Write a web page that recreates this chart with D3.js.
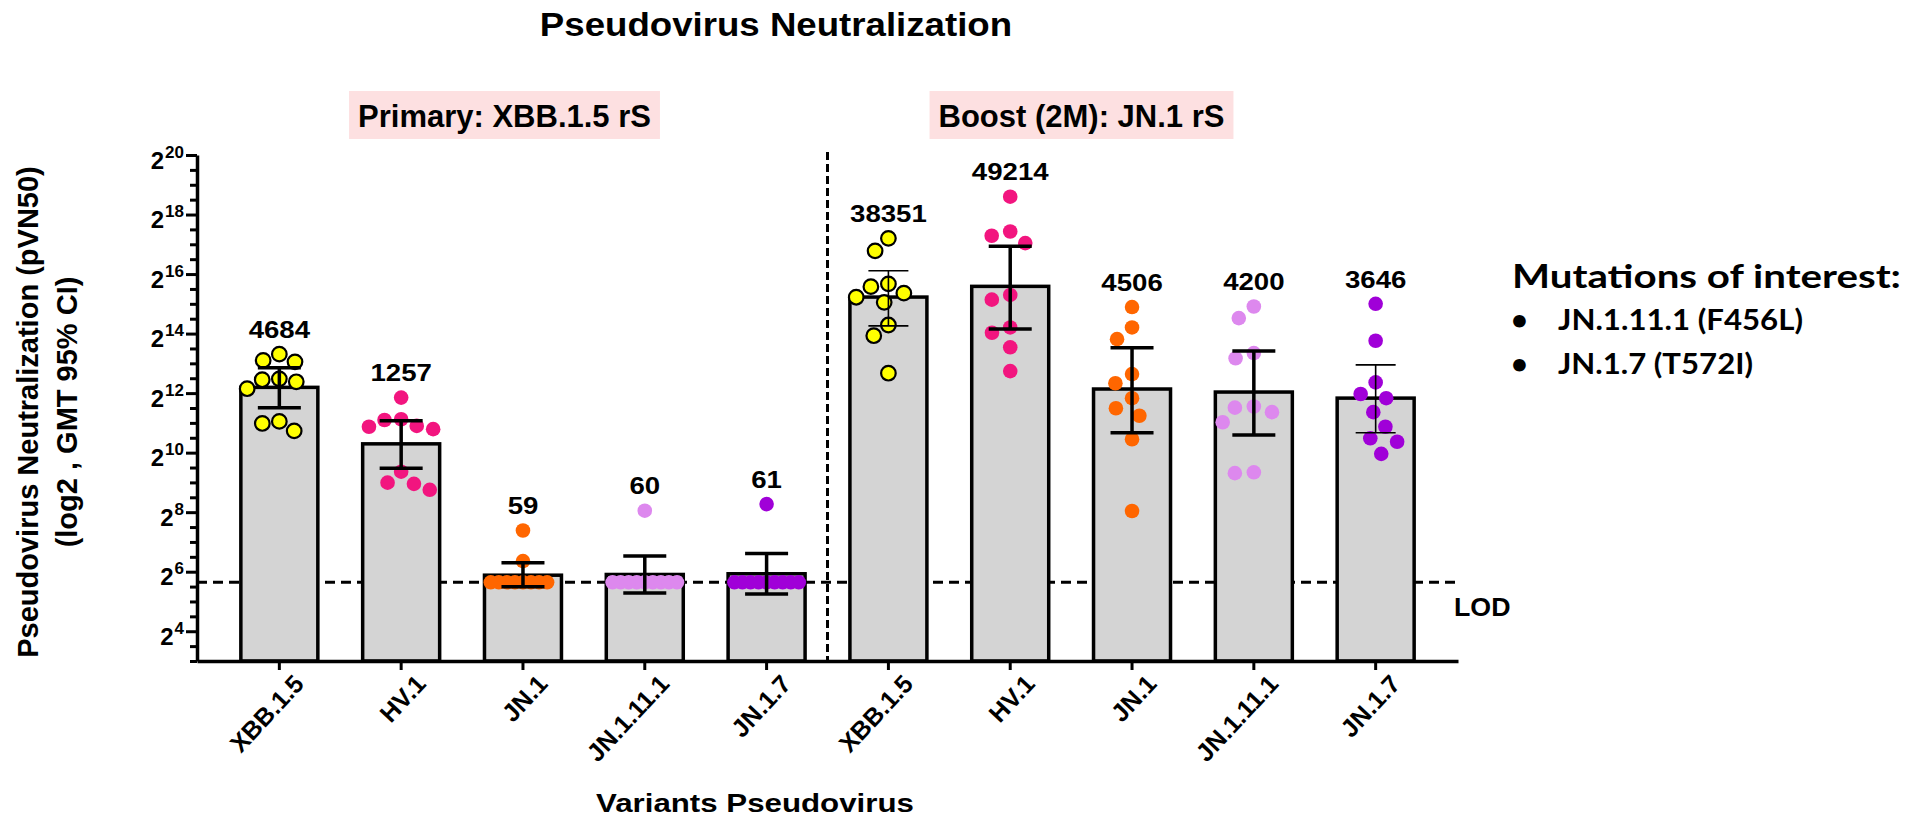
<!DOCTYPE html>
<html>
<head>
<meta charset="utf-8">
<script src="https://cdn.jsdelivr.net/npm/d3@7"></script>
<style>
  body { margin: 0; background: #fff; }
  svg text { font-family: "Liberation Sans", Arial, sans-serif; font-weight: bold; fill: #000; }
</style>
</head>
<body>
<script>
// ---- data ----
const groups = ['Primary: XBB.1.5 rS', 'Boost (2M): JN.1 rS'];
const variants = ['XBB.1.5', 'HV.1', 'JN.1', 'JN.1.11.1', 'JN.1.7'];
// geometric mean titers (labels), primary group then boost group
const gmt = [4684, 1257, 59, 60, 61, 38351, 49214, 4506, 4200, 3646];
const ciLow = [2920, 710, 45, 39, 38, 19600, 18200, 1630, 1540, 1630];
const ciHigh = [7380, 2150, 79, 92, 98, 70700, 125600, 11800, 10950, 7900];
// individual animals, pVN50
const primaryTiters = [
	[10150, 8780, 8480, 5710, 5600, 5330, 4540, 2120, 2020, 1700],
	[3690, 2230, 2190, 1910, 1870, 1770, 657, 509, 495, 431],
	[167, 82, 50, 50, 50, 50, 50, 50, 50, 50],
	[265, 50, 50, 50, 50, 50, 50, 50, 50, 50],
	[309, 50, 50, 50, 50, 50, 50, 50, 50, 50]
];
const boostTiters = [
	[150600, 112500, 52100, 48900, 42000, 38200, 33900, 20000, 15600, 6510],
	[397000, 176500, 160000, 134700, 40300, 36100, 18900, 16700, 11900, 6840],
	[30400, 18900, 14400, 6380, 5150, 3640, 2880, 2420, 1400, 263],
	[30800, 23500, 10400, 9210, 3000, 2920, 2630, 2080, 648, 635],
	[32770, 13870, 5260, 4010, 3640, 2630, 1870, 1430, 1320, 996]
];
const lod = 50;
const yExponents = [4, 6, 8, 10, 12, 14, 16, 18, 20];
const mutations = ['JN.1.11.1 (F456L)', 'JN.1.7 (T572I)'];

// ---- style ----
const colors = ['#ffff00', '#f2157f', '#ff6600', '#dd88ee', '#a000d8'];
const thinCI = new Set([5, 9]);
const r = 7.3;

//helper: stretch text horizontally by k
const stretch = (sel, k) => sel.each(function () {
	const w = this.getComputedTextLength();
	d3.select(this).attr('textLength', w * k).attr('lengthAdjust', 'spacingAndGlyphs');
});

const rows = groups.flatMap((g, gi) => variants.map((v, vi) => {
	const i = gi * variants.length + vi;
	return {
		key: i, variant: v, vi, gmt: gmt[i], lo: ciLow[i], hi: ciHigh[i],
		titers: (gi === 0 ? primaryTiters : boostTiters)[vi]
	};
}));

const svg = d3.select('body').append('svg')
	.attr('width', 1920)
	.attr('height', 817);

const x = d3.scaleBand()
	.domain(rows.map((d) => d.key))
	.range([197, 1458])
	.paddingInner(0.368)
	.paddingOuter(0.36);
const y = d3.scaleLog().base(2)
	.domain([2 ** 3, 2 ** 20])
	.range([661, 155]);
const bw = x.bandwidth();

//simple greedy beeswarm, returns x offsets
function swarm(vals, maxHalf) {
	const D = 19;
	const pts = vals.map((v) => ({ py: y(v), dx: 0 }));
	const placed = [];
	pts.slice().sort((a, b) => a.py - b.py).forEach((p) => {
		const cands = [0];
		placed.forEach((q) => {
			const dy = Math.abs(q.py - p.py);
			if (dy < D) {
				const off = Math.sqrt(D * D - dy * dy);
				cands.push(q.dx + off, q.dx - off);
			}
		});
		cands.sort((a, b) => Math.abs(a) - Math.abs(b) || a - b);
		for (const c of cands) {
			if (placed.every((q) => (q.dx - c) ** 2 + (q.py - p.py) ** 2 >= D * D - 0.01)) { p.dx = c; break; }
		}
		placed.push(p);
	});
	const m = d3.max(pts, (p) => Math.abs(p.dx));
	if (m > maxHalf) pts.forEach((p) => { p.dx *= maxHalf / m; });
	return pts;
}

//LOD dashed line (behind the bars)
svg.append('line')
	.attr('x1', 197).attr('x2', 1458)
	.attr('y1', y(lod)).attr('y2', y(lod))
	.attr('stroke', '#000').attr('stroke-width', 3)
	.attr('stroke-dasharray', '10,6');

//bars
svg.append('g').selectAll('rect')
	.data(rows)
	.join('rect')
	.attr('x', (d) => x(d.key))
	.attr('y', (d) => y(d.gmt))
	.attr('width', bw)
	.attr('height', (d) => 661 - y(d.gmt))
	.attr('fill', '#d4d4d4')
	.attr('stroke', '#000')
	.attr('stroke-width', 3.5);

//dots
const cols = svg.append('g').selectAll('g')
	.data(rows)
	.join('g')
	.attr('transform', (d) => `translate(${x(d.key) + bw / 2},0)`);
cols.each(function (d) {
	const pts = swarm(d.titers, bw / 2 - r + 1);
	d.topDot = d3.min(pts, (p) => p.py) - r;
	d3.select(this).selectAll('circle')
		.data(pts)
		.join('circle')
		.attr('cx', (p) => p.dx)
		.attr('cy', (p) => p.py)
		.attr('r', r)
		.attr('fill', colors[d.vi])
		.attr('stroke', d.vi === 0 ? '#000' : 'none')
		.attr('stroke-width', 2.2);
});

//error bars (95% CI)
cols.append('path')
	.attr('d', (d) => {
		const c = thinCI.has(d.key) ? 20 : 21.5;
		return `M0,${y(d.lo)}V${y(d.hi)}M${-c},${y(d.hi)}H${c}M${-c},${y(d.lo)}H${c}`;
	})
	.attr('fill', 'none')
	.attr('stroke', '#000')
	.attr('stroke-width', (d) => thinCI.has(d.key) ? 1.6 : 3.5);

//GMT labels
cols.append('text')
	.attr('y', (d) => d.topDot - 9)
	.attr('text-anchor', 'middle')
	.attr('font-size', 23)
	.text((d) => d.gmt)
	.call(stretch, 1.2);

//group divider
const divX = x(4) + bw + (x.step() - bw) / 2;
svg.append('line')
	.attr('x1', divX).attr('x2', divX)
	.attr('y1', 152).attr('y2', 661)
	.attr('stroke', '#000').attr('stroke-width', 3)
	.attr('stroke-dasharray', '8,4');

//y axis: minor then major ticks
const minor = d3.range(3, 20.01, 0.5).filter((e) => !yExponents.includes(e)).map((e) => 2 ** e);
const gyMinor = svg.append('g')
	.attr('transform', 'translate(197,0)')
	.call(d3.axisLeft(y).tickValues(minor).tickSize(7).tickFormat(''));
gyMinor.select('.domain').remove();
const gy = svg.append('g')
	.attr('transform', 'translate(197,0)')
	.call(d3.axisLeft(y).tickValues(yExponents.map((e) => 2 ** e)).tickSize(11).tickSizeOuter(0).tickFormat(''));
svg.selectAll('.tick line').attr('stroke-width', 3);
gy.select('.domain').attr('stroke-width', 3.5);
gy.selectAll('.tick').append('text')
	.attr('x', -13)
	.attr('y', 13)
	.attr('text-anchor', 'end')
	.each(function (v) {
		const t = d3.select(this);
		t.append('tspan').attr('font-size', 24).text('2');
		t.append('tspan').attr('font-size', 17).attr('dy', -11).attr('dx', 1).text(Math.round(Math.log2(v)));
	});

//x axis
const gx = svg.append('g')
	.attr('transform', 'translate(0,661)')
	.call(d3.axisBottom(x).tickSize(9).tickSizeOuter(0).tickFormat(''));
gx.select('.domain').attr('stroke-width', 3.5);
gx.selectAll('.tick line').attr('stroke-width', 3);
gx.selectAll('.tick').append('text')
	.attr('transform', 'translate(26,24) rotate(-47)')
	.attr('text-anchor', 'end')
	.attr('font-size', 25)
	.text((k) => rows[k].variant);

//LOD label
svg.append('text')
	.attr('x', 1454).attr('y', y(lod) + 34)
	.attr('font-size', 25)
	.text('LOD')
	.call(stretch, 1.07);

//axis titles
svg.append('text')
	.attr('x', 755).attr('y', 812)
	.attr('text-anchor', 'middle')
	.attr('font-size', 25)
	.text('Variants Pseudovirus')
	.call(stretch, 1.25);
svg.append('text')
	.attr('transform', 'translate(38,412) rotate(-90)')
	.attr('text-anchor', 'middle')
	.attr('font-size', 29)
	.text('Pseudovirus Neutralization (pVN50)');
svg.append('text')
	.attr('transform', 'translate(77,412) rotate(-90)')
	.attr('text-anchor', 'middle')
	.attr('font-size', 29)
	.text('(log2 , GMT 95% CI)');

//title
svg.append('text')
	.attr('x', 776).attr('y', 36)
	.attr('text-anchor', 'middle')
	.attr('font-size', 33)
	.text('Pseudovirus Neutralization')
	.call(stretch, 1.11);

//group labels in pink boxes
const boxCenters = [504.5, 1081.5];
const gLabels = svg.append('g');
groups.forEach((g, i) => {
	const t = gLabels.append('text')
		.attr('x', boxCenters[i]).attr('y', 127)
		.attr('text-anchor', 'middle')
		.attr('font-size', 31)
		.text(g);
	const w = t.node().getComputedTextLength() + 18;
	gLabels.insert('rect', () => t.node())
		.attr('x', boxCenters[i] - w / 2).attr('y', 91)
		.attr('width', w).attr('height', 48)
		.attr('fill', '#fde0e1');
});

//mutations note
const note = svg.append('g');
note.append('text')
	.attr('x', 1512).attr('y', 288)
	.attr('font-size', 33)
	.style('font-family', 'Lato, "Open Sans", sans-serif')
	.attr('textLength', 389).attr('lengthAdjust', 'spacingAndGlyphs')
	.text('Mutations of interest:');
const itemW = [245, 195];
mutations.forEach((m, i) => {
	note.append('text')
		.attr('x', 1511).attr('y', 330 + i * 44)
		.attr('font-size', 29)
		.style('font-family', 'Lato, "Open Sans", sans-serif')
		.text('•');
	note.append('text')
		.attr('x', 1558).attr('y', 330 + i * 44)
		.attr('font-size', 29)
		.style('font-family', 'Lato, "Open Sans", sans-serif')
		.attr('textLength', itemW[i]).attr('lengthAdjust', 'spacingAndGlyphs')
		.text(m);
});
</script>
</body>
</html>
